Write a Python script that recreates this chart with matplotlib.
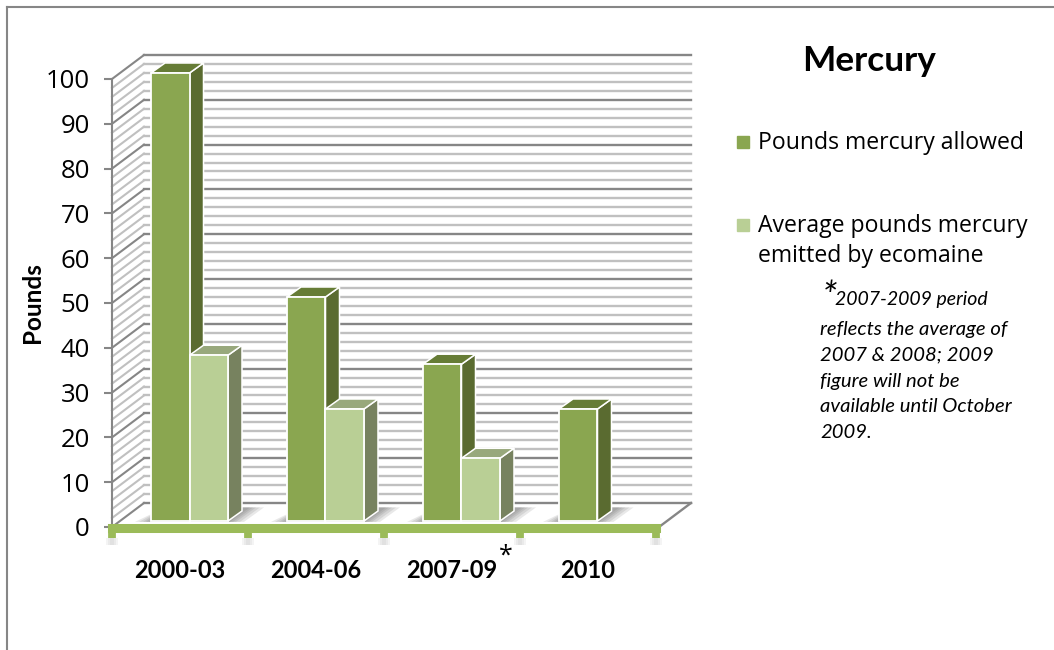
import matplotlib
matplotlib.use("Agg")
import matplotlib.pyplot as plt
from matplotlib.patches import Rectangle
from matplotlib.lines import Line2D
import numpy as np

categories = ['2000-03', '2004-06', '2007-09', '2010']
allowed = [100, 50, 35, 25]
emitted = [37, 25, 14]
y_ticks = [0, 10, 20, 30, 40, 50, 60, 70, 80, 90, 100]
legend_labels = ['Pounds mercury allowed', 'Average pounds mercury\nemitted by ecomaine']
title = 'Mercury'
note = 'reflects the average of\n2007 & 2008; 2009\nfigure will not be\navailable until October\n2009.'
note_first = '2007-2009 period'

W, H = 1054, 650
plt.rcParams['font.family'] = 'Open Sans'
fig = plt.figure(figsize=(W / 100, H / 100), dpi=100)
ax = fig.add_axes([112 / W, (H - 527) / H, 544 / W, 448 / H])
ax.set_xlim(0, 4)
ax.set_ylim(0, 100)

# pixels to data units
px = 4 / 544
py = 100 / 448
wall_dx = 32 * px
wall_dy = 24 * py
depth_x = 14 * px
depth_y = 10 * py
bar_base = 6 * py
bar_w = 38.5 * px
bar_start = 39 * px

def grid_style(v):
    if v % 10 == 0:
        return '#868686'
    return '#c0c0c0'

# back wall and side wall
for v in range(0, 101, 2):
    c = grid_style(v)
    ax.plot([wall_dx, 4 + wall_dx + 3 * px], [v + wall_dy, v + wall_dy], color=c, lw=1.7, clip_on=False, zorder=1)
    ax.plot([0, wall_dx], [v, v + wall_dy], color=c, lw=1.5, clip_on=False, zorder=1)
ax.plot([4 + 3 * px, 4 + wall_dx + 3 * px], [0, wall_dy], color='#868686', lw=1.7, clip_on=False, zorder=1)

def soft_shadow(x0, x1):
    # floor shadow of a bar, a few faint layers
    ax.fill([x0 - 2 * px, x1 + 2 * px, x1 + depth_x + 30 * px, x0 + 20 * px],
            [bar_base, bar_base, bar_base + depth_y + 4 * py, bar_base + depth_y + 4 * py],
            color='white', lw=0, clip_on=False, zorder=2)
    for grow in [16, 12, 8, 5, 2]:
        xs = [x0 - grow * px, x1 + grow * px, x1 + depth_x + (grow + 6) * px, x0 + depth_x]
        ys = [bar_base - 0.2, bar_base - 0.2, bar_base + depth_y + 0.8, bar_base + depth_y + 0.8]
        ax.fill(xs, ys, color='#505050', alpha=0.13, lw=0, clip_on=False, zorder=2)

def draw_bar(x, v, front, side, top):
    ax.bar(x, v, width=bar_w, bottom=bar_base, align='edge', color=front, edgecolor='white', lw=1.3, clip_on=False, zorder=4)
    y1 = bar_base + v
    ax.fill([x + bar_w, x + bar_w + depth_x, x + bar_w + depth_x, x + bar_w],
            [bar_base, bar_base + depth_y, y1 + depth_y, y1],
            facecolor=side, edgecolor='white', lw=1.1, clip_on=False, zorder=3)
    ax.fill([x, x + bar_w, x + bar_w + depth_x, x + depth_x],
            [y1, y1, y1 + depth_y, y1 + depth_y],
            facecolor=top, edgecolor='white', lw=1.1, clip_on=False, zorder=3)

for i, v in enumerate(allowed):
    n = 2 if i < len(emitted) else 1
    soft_shadow(i + bar_start, i + bar_start + n * bar_w)

for i, v in enumerate(allowed):
    draw_bar(i + bar_start, v, '#8aa650', '#5a6b30', '#667c36')
for i, v in enumerate(emitted):
    draw_bar(i + bar_start + bar_w, v, '#b9cf95', '#77825f', '#98a87c')

# axes
for s in ['top', 'right']:
    ax.spines[s].set_visible(False)
ax.spines['left'].set_color('#868686')
ax.spines['left'].set_linewidth(1.5)
ax.spines['bottom'].set_color('#9bbb59')
ax.spines['bottom'].set_linewidth(6.5)
ax.spines['bottom'].set_position(('outward', 1))
ax.spines['bottom'].set_zorder(5)
ax.spines['bottom'].set_capstyle('projecting')

ax.set_yticks(y_ticks)
ax.tick_params(axis='y', length=6, width=1.5, color='#868686', labelsize=18.5, pad=10)
ax.set_xticks(range(5))
ax.set_xticklabels([])
ax.tick_params(axis='x', which='major', length=7, width=5.6, color='#9bbb59')
ax.set_xticks(np.arange(len(categories)) + 0.5, minor=True)
ax.set_xticklabels(categories, minor=True, fontfamily='Lato', fontweight='bold', fontsize=17)
ax.tick_params(axis='x', which='minor', length=0, pad=22)
ax.set_ylabel('Pounds', fontfamily='Lato', fontweight='bold', fontsize=17.5, labelpad=1)

# nub shadows below the axis
for i in range(5):
    for g in [6, 4, 2]:
        ax.add_patch(Rectangle((i - g * px, -18 * py), 2 * g * px, 7 * py, color='#909090', alpha=0.09, lw=0, clip_on=False, zorder=1))

def ftext(x, y, s, **kw):
    fig.text(x / W, 1 - y / H, s, **kw)

ftext(869, 61, title, fontfamily='Lato', fontweight='bold', fontsize=25.4, ha='center', va='center')

# legend
fig.add_artist(Rectangle((737 / W, 1 - 148 / H), 12 / W, 12 / H, color='#8aa650', transform=fig.transFigure))
fig.add_artist(Rectangle((737 / W, 1 - 231 / H), 12 / W, 12 / H, color='#b9cf95', transform=fig.transFigure))
ftext(758, 143, legend_labels[0], fontsize=16.6, va='center')
ftext(758, 241, legend_labels[1], fontsize=16.6, va='center', linespacing=1.3)

# footnote
ftext(822, 309, '*', fontfamily='Lato', style='italic', fontsize=28, va='baseline')
ftext(835, 305, note_first, fontfamily='Lato', style='italic', fontsize=14, va='baseline')
ftext(820, 381, note, fontfamily='Lato', style='italic', fontsize=14.6, va='center', linespacing=1.62)
ftext(499, 563, '*', fontsize=18, va='baseline')

# frame, only top and left show
fig.add_artist(Line2D([7 / W, 7 / W], [0, 1 - 7 / H], color='#868686', lw=1.5))
fig.add_artist(Line2D([7 / W, 1], [1 - 7 / H, 1 - 7 / H], color='#868686', lw=1.5))

fig.savefig('out.png', dpi=100)
